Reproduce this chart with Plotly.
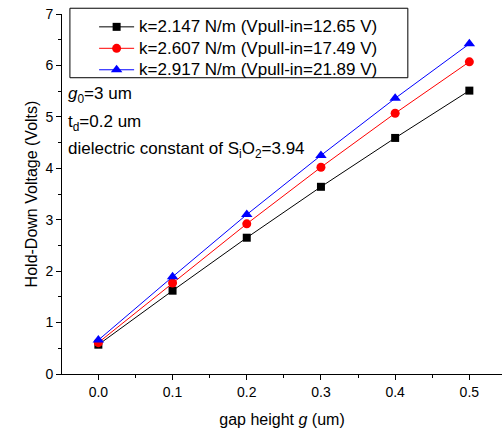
import plotly.graph_objects as go

gap = [0.0, 0.1, 0.2, 0.3, 0.4, 0.5]
v_k2147 = [0.57, 1.62, 2.65, 3.64, 4.59, 5.51]
v_k2607 = [0.61, 1.77, 2.92, 4.02, 5.07, 6.07]
v_k2917 = [0.66, 1.89, 3.10, 4.25, 5.36, 6.42]
names = [
    "k=2.147 N/m (Vpull-in=12.65 V)",
    "k=2.607 N/m (Vpull-in=17.49 V)",
    "k=2.917 N/m (Vpull-in=21.89 V)",
]

font = "Liberation Sans, Arial, sans-serif"

fig = go.Figure()
series = [
    (v_k2147, names[0], "black", "square", 8),
    (v_k2607, names[1], "red", "circle", 9),
    (v_k2917, names[2], "blue", "triangle-up", 10),
]
for vals, nm, col, sym, sz in series:
    fig.add_trace(go.Scatter(
        x=gap, y=vals, mode="lines+markers",
        # larger glyphs inside a compact legend row
        name=f'<span style="font-size:17px">{nm}</span>',
        line=dict(color=col, width=1),
        marker=dict(symbol=sym, size=sz, color=col),
    ))

fig.update_layout(
    width=502, height=432,
    margin=dict(l=62, r=0, t=14, b=58),
    paper_bgcolor="white", plot_bgcolor="white",
    font=dict(family=font, size=14, color="black"),
    showlegend=True,
    legend=dict(
        x=0.073, y=1.008, xanchor="left", yanchor="top",
        borderwidth=0, bgcolor="rgba(0,0,0,0)",
        font=dict(size=14.2, family=font),
        itemwidth=35,
    ),
    xaxis=dict(
        range=[-0.049, 0.544], tickvals=[0.0, 0.1, 0.2, 0.3, 0.4, 0.5],
        ticktext=["0.0", "0.1", "0.2", "0.3", "0.4", "0.5"],
        showgrid=False, zeroline=False, showline=True, linecolor="black", linewidth=1,
        ticks="outside", ticklen=5, tickcolor="black",
        minor=dict(dtick=0.05, tick0=0, ticks="outside", ticklen=3, tickcolor="black"),
        title=dict(text="gap height <i>g</i> (um)", font=dict(size=16), standoff=15),
    ),
    yaxis=dict(
        range=[0, 7], dtick=1,
        showgrid=False, zeroline=False, showline=True, linecolor="black", linewidth=1,
        ticks="outside", ticklen=5, tickcolor="black",
        minor=dict(dtick=0.5, ticks="outside", ticklen=3, tickcolor="black"),
        title=dict(text="Hold-Down Voltage (Volts)", font=dict(size=16), standoff=3),
    ),
)

# frame around the legend
fig.add_shape(
    type="rect", xref="paper", yref="paper",
    x0=0.018, x1=0.786, y0=0.823, y1=1.016,
    line=dict(color="black", width=1), fillcolor="rgba(0,0,0,0)", layer="above",
)

notes = [
    ("<i>g</i><sub>0</sub>=3 um", 0.775),
    ("t<sub>d</sub>=0.2 um", 0.698),
    ("dielectric constant of S<sub>i</sub>O<sub>2</sub>=3.94", 0.622),
]
for txt, yy in notes:
    fig.add_annotation(
        text=txt, xref="paper", yref="paper", x=0.01, y=yy,
        xanchor="left", yanchor="middle", showarrow=False,
        font=dict(size=17, family=font, color="black"),
    )

fig.write_html("out.html")
